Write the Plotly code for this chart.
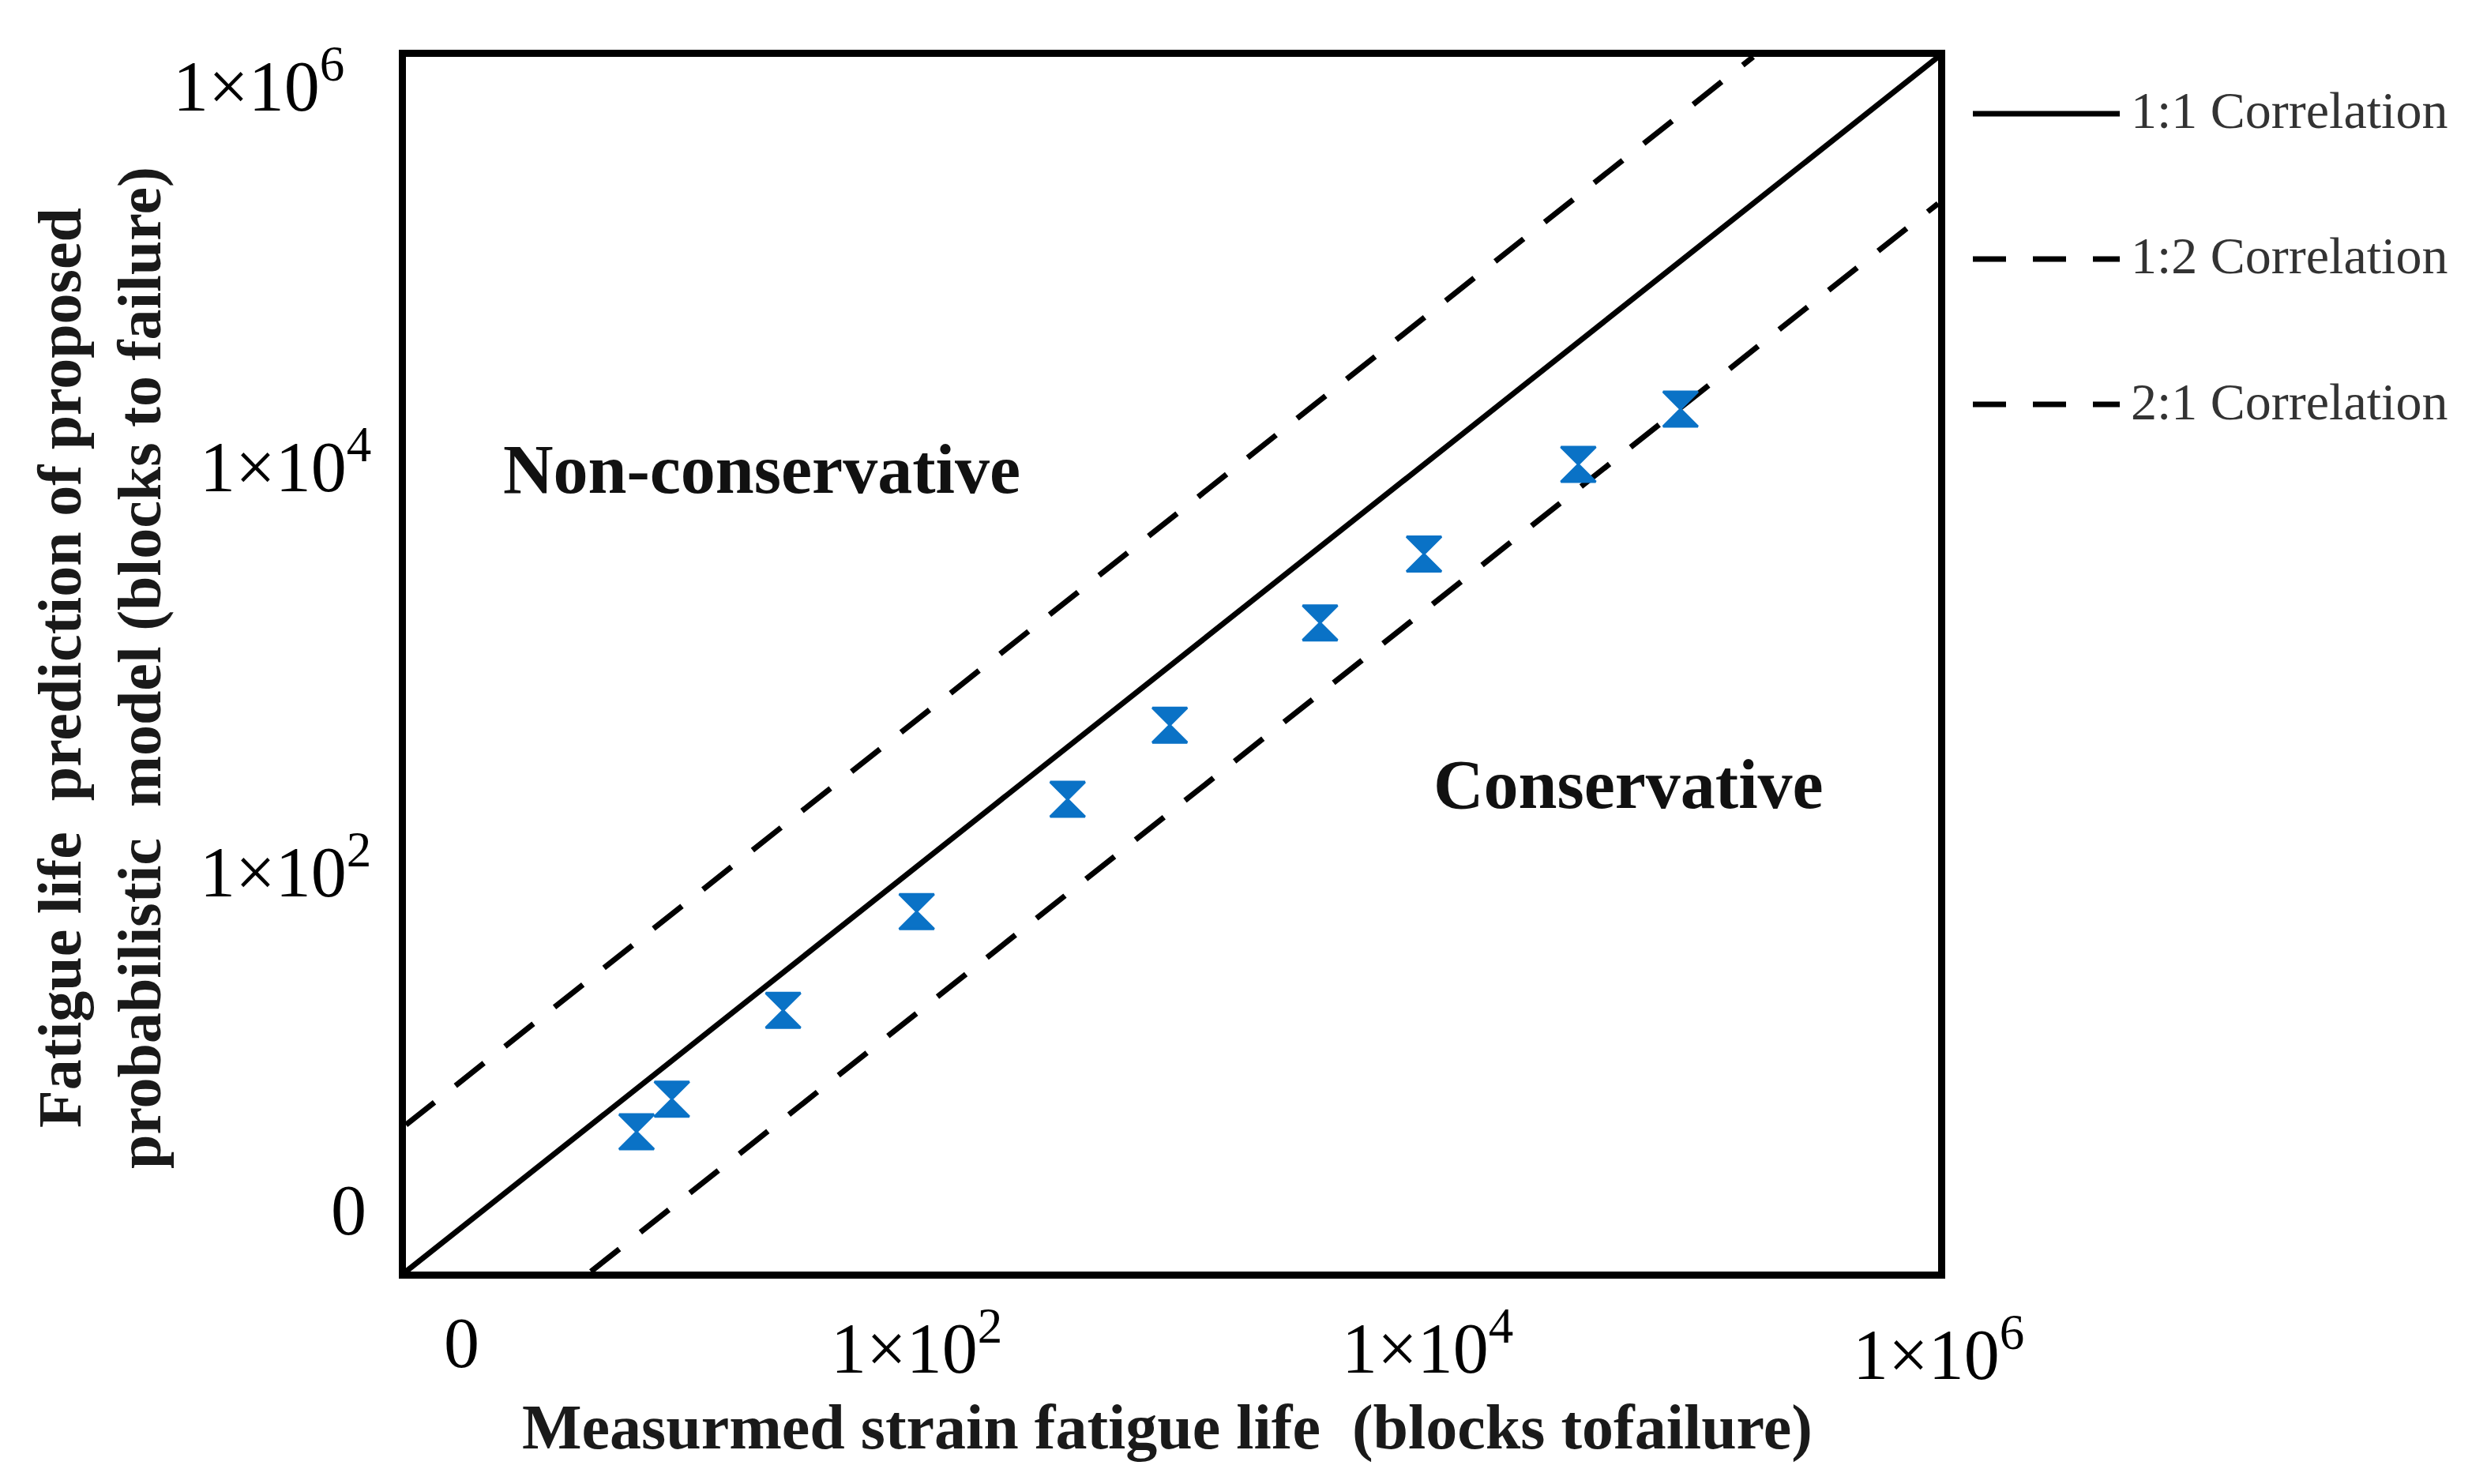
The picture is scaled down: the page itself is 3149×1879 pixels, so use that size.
import math
import plotly.graph_objects as go

# ---- data ----
measured = [8, 11, 30, 100, 390, 980, 3800, 9700, 39000, 98000]
predicted = [4.9, 7.1, 19.5, 60, 215, 500, 1600, 3500, 9700, 18200]

axis_min = 1
axis_max = 1e6
band_factor = 5.3  # offset of the dashed scatter-band lines

tick_vals = [1, 1e2, 1e4, 1e6]
tick_text = ["0", "1×10<sup>2</sup>", "1×10<sup>4</sup>", "1×10<sup>6</sup>"]

legend_labels = ["1:1 Correlation", "1:2 Correlation", "2:1 Correlation"]

x_title = "Measurmed strain fatigue life  (blocks tofailure)"
y_title = "Fatigue life  prediction of proposed<br>probabilistic  model (blocks to failure)"

FONT = "Liberation Serif"
W, H = 3149, 1879
L, R, T, B = 506, 2446, 64, 1602

fig = go.Figure()

LW = 7
DASH = "46px,34px"
# 1:1 line
fig.add_trace(go.Scatter(x=[axis_min, axis_max], y=[axis_min, axis_max], mode="lines",
                         line=dict(color="black", width=LW), showlegend=False, hoverinfo="skip"))
# upper dashed
fig.add_trace(go.Scatter(x=[axis_min, axis_max / band_factor], y=[axis_min * band_factor, axis_max],
                         mode="lines", line=dict(color="black", width=LW, dash=DASH),
                         showlegend=False, hoverinfo="skip"))
# lower dashed
fig.add_trace(go.Scatter(x=[axis_min * band_factor, axis_max], y=[axis_min, axis_max / band_factor],
                         mode="lines", line=dict(color="black", width=LW, dash=DASH),
                         showlegend=False, hoverinfo="skip"))
# data points
fig.add_trace(go.Scatter(x=measured, y=predicted, mode="markers",
                         marker=dict(symbol="hourglass", size=44, color="#0a72c6",
                                     line=dict(width=3, color="#0a72c6")),
                         showlegend=False))

for ax in (fig.update_xaxes, fig.update_yaxes):
    ax(type="log", range=[0, 6], showticklabels=False, ticks="",
       showgrid=False, zeroline=False, showline=True, mirror=True,
       linecolor="black", linewidth=9)

ann = []
TICK_SIZE = 90
# x tick labels
x_label_shift_x = [70, 0, 0, 0]
x_label_shift_y = [-90, -90, -90, -98]
for v, t, sx, sy in zip(tick_vals, tick_text, x_label_shift_x, x_label_shift_y):
    ann.append(dict(x=math.log10(v), xref="x", y=0, yref="paper", text=t,
                    showarrow=False, xanchor="center", yanchor="middle",
                    xshift=sx, yshift=sy, font=dict(family=FONT, size=TICK_SIZE, color="black")))
# y tick labels
y_label_shift_x = [-48, -42, -42, -76]
y_label_shift_y = [78, 0, 0, -30]
for v, t, sx, sy in zip(tick_vals, tick_text, y_label_shift_x, y_label_shift_y):
    ann.append(dict(x=0, xref="paper", y=math.log10(v), yref="y", text=t,
                    showarrow=False, xanchor="right", yanchor="middle",
                    xshift=sx, yshift=sy, font=dict(family=FONT, size=TICK_SIZE, color="black")))

# axis titles
ann.append(dict(x=(1470 - L) / (R - L), xref="paper", y=(B - 1800) / (B - T), yref="paper",
                text="<b>" + x_title + "</b>", showarrow=False, xanchor="center", yanchor="middle",
                font=dict(family=FONT, size=80, color="#1a1a1a")))
ann.append(dict(x=(118 - L) / (R - L), xref="paper", y=(B - 838) / (B - T), yref="paper",
                text="<b>" + y_title.replace("<br>", "</b><br><b>") + "</b>", textangle=-90,
                showarrow=False, xanchor="center", yanchor="middle",
                font=dict(family=FONT, size=78, color="#1a1a1a")))

# region labels
ann.append(dict(x=(956 - L) / (R - L), xref="paper", y=(B - 586) / (B - T), yref="paper",
                text="<b>Non-conservative</b>", showarrow=False, xanchor="center", yanchor="middle",
                font=dict(family=FONT, size=88, color="#111")))
ann.append(dict(x=(2054 - L) / (R - L), xref="paper", y=(B - 986) / (B - T), yref="paper",
                text="<b>Conservative</b>", showarrow=False, xanchor="center", yanchor="middle",
                font=dict(family=FONT, size=88, color="#111")))

# legend (drawn manually)
leg_y_px = [136, 320, 504]
leg_dash = ["solid", "42px,34px", "42px,34px"]
shapes = []
for lab, ypx, d in zip(legend_labels, leg_y_px, leg_dash):
    yp = (B - ypx) / (B - T)
    shapes.append(dict(type="line", xref="paper", yref="paper",
                       x0=(2490 - L) / (R - L), x1=(2676 - L) / (R - L), y0=yp, y1=yp,
                       line=dict(color="black", width=7, dash=d)))
    ann.append(dict(x=(2688 - L) / (R - L), xref="paper", y=yp, yref="paper", text=lab,
                    showarrow=False, xanchor="left", yanchor="middle", yshift=4,
                    font=dict(family=FONT, size=66, color="#333")))

fig.update_layout(width=W, height=H, margin=dict(l=L, r=W - R, t=T, b=H - B),
                  plot_bgcolor="white", paper_bgcolor="white",
                  annotations=ann, shapes=shapes, showlegend=False)

fig.write_html("out.html")
